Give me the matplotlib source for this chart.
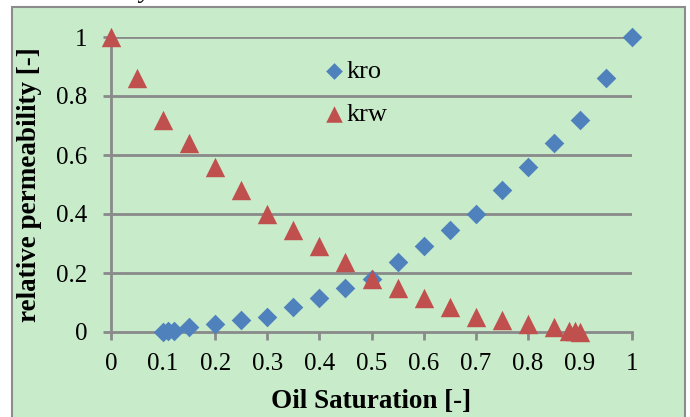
import matplotlib
matplotlib.use("Agg")
import matplotlib.pyplot as plt
from matplotlib.patches import Rectangle

plt.rcParams['font.family'] = ['Liberation Serif', 'DejaVu Serif']

# data
so_kro = [0.10, 0.11, 0.12, 0.15, 0.20, 0.25, 0.30, 0.35, 0.40, 0.45, 0.50,
          0.55, 0.60, 0.65, 0.70, 0.75, 0.80, 0.85, 0.90, 0.95, 1.00]
kro = [0.0, 0.003, 0.005, 0.016, 0.027, 0.039, 0.051, 0.084, 0.116, 0.149, 0.181,
       0.236, 0.290, 0.345, 0.400, 0.480, 0.560, 0.640, 0.720, 0.860, 1.000]
so_krw = [0.00, 0.05, 0.10, 0.15, 0.20, 0.25, 0.30, 0.35, 0.40, 0.45, 0.50,
          0.55, 0.60, 0.65, 0.70, 0.75, 0.80, 0.85, 0.88, 0.89, 0.90]
krw = [1.000, 0.860, 0.720, 0.640, 0.560, 0.480, 0.400, 0.345, 0.290, 0.236, 0.181,
       0.149, 0.116, 0.084, 0.051, 0.039, 0.027, 0.016, 0.005, 0.003, 0.0]
xticks = [0, 0.1, 0.2, 0.3, 0.4, 0.5, 0.6, 0.7, 0.8, 0.9, 1]
xticklabels = ['0', '0.1', '0.2', '0.3', '0.4', '0.5', '0.6', '0.7', '0.8', '0.9', '1']
yticks = [0, 0.2, 0.4, 0.6, 0.8, 1]
yticklabels = ['0', '0.2', '0.4', '0.6', '0.8', '1']

W, H = 690, 417
fig = plt.figure(figsize=(W / 100, H / 100), dpi=100)
fig.patch.set_facecolor('white')

# green chart panel
panel = Rectangle((12 / W, -0.02), (685 - 12) / W, 1.02 - 7 / H,
                  transform=fig.transFigure, facecolor='#c8ecca',
                  edgecolor='#8c8c8c', linewidth=1.5, zorder=-5)
fig.patches.append(panel)
# caption text above the chart, mostly cut off by the page crop
fig.text(30 / W, 1 + 2 / H, 'in this study.', fontsize=18, style='italic',
         ha='left', va='baseline', color='black', zorder=-4)

ax = fig.add_axes([111 / W, 1 - 332 / H, (632 - 111) / W, (332 - 37) / H])
ax.set_zorder(2)
ax.set_facecolor('none')
ax.set_xlim(0, 1)
ax.set_ylim(0, 1)

grid_c = '#8a8a8a'
for yv in yticks[1:]:
    ax.axhline(yv, color=grid_c, lw=2, zorder=1)
for s in ['top', 'right']:
    ax.spines[s].set_visible(False)
for s in ['left', 'bottom']:
    ax.spines[s].set_color(grid_c)
    ax.spines[s].set_linewidth(2)

ax.scatter(so_kro, kro, marker='D', s=10 ** 2, color='#4f81bd', lw=0,
           zorder=3, clip_on=False, label='kro')
ax.scatter(so_krw, krw, marker='^', s=14 ** 2, color='#c0504d', lw=0,
           zorder=4, clip_on=False, label='krw')

ax.set_xticks(xticks)
ax.set_xticklabels(xticklabels)
ax.set_yticks(yticks)
ax.set_yticklabels(yticklabels)
ax.tick_params(axis='both', labelsize=18, color=grid_c, width=2, length=6)
ax.tick_params(axis='x', pad=9)
ax.tick_params(axis='y', pad=11)

ax.set_xlabel('Oil Saturation [-]', fontsize=19.5, fontweight='bold', labelpad=10)
ax.set_ylabel('relative permeability [-]', fontsize=19.5, fontweight='bold', labelpad=10)

leg = ax.legend(loc='center left', bbox_to_anchor=(0.388, 0.81), frameon=False,
                fontsize=19, handlelength=0.6, handletextpad=0.15,
                labelspacing=0.75, markerscale=0.85, borderpad=0)

fig.savefig('out.png', dpi=100, facecolor=fig.get_facecolor())
